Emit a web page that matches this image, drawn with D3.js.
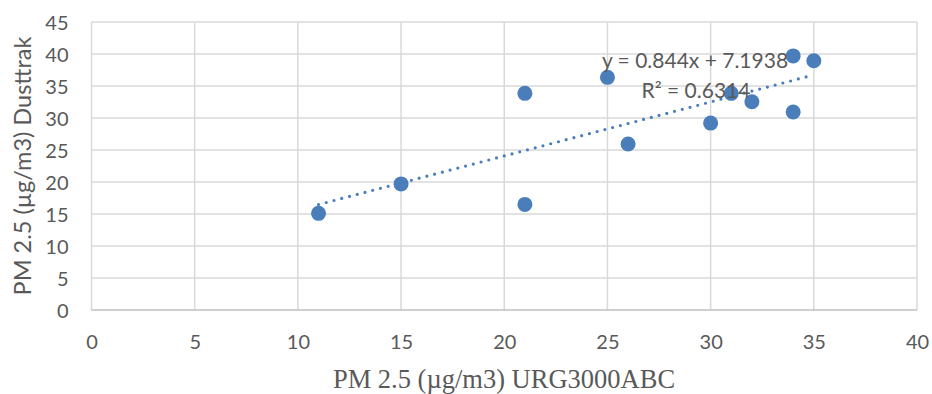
<!DOCTYPE html>
<html>
<head>
<meta charset="utf-8">
<script src="https://cdn.jsdelivr.net/npm/d3@7"></script>
<style>
  body { margin: 0; background: #fff; }
  svg { display: block; }
</style>
</head>
<body>
<script>
// readings from the two instruments
var urg = [11, 15, 21, 21, 25, 26, 30, 31, 32, 34, 34, 35];
var dusttrak = [15.1, 19.7, 33.85, 16.5, 36.35, 25.94, 29.2, 33.85, 32.55, 39.7, 30.94, 38.95];
var xTicks = [0, 5, 10, 15, 20, 25, 30, 35, 40];
var yTicks = [0, 5, 10, 15, 20, 25, 30, 35, 40, 45];
var slope = 0.844, intercept = 7.1938, r2 = 0.6314;

var width = 932, height = 394;
var margin = {top: 22, right: 15, bottom: 84, left: 91.5};
var sans = "Lato, 'Open Sans', sans-serif";

var svg = d3.select("body").append("svg")
    .attr("width", width)
    .attr("height", height);

var x = d3.scaleLinear().domain([0, 40]).range([margin.left, width - margin.right]);
var y = d3.scaleLinear().domain([0, 45]).range([height - margin.bottom, margin.top]);

var grid = svg.append("g");
grid.selectAll("line.v").data(xTicks).enter().append("line")
    .attr("x1", function(d) { return x(d); })
    .attr("x2", function(d) { return x(d); })
    .attr("y1", y(0)).attr("y2", y(45))
    .attr("stroke", "#d9d9d9").attr("stroke-width", 1.5);
grid.selectAll("line.h").data(yTicks).enter().append("line")
    .attr("y1", function(d) { return y(d); })
    .attr("y2", function(d) { return y(d); })
    .attr("x1", x(0)).attr("x2", x(40))
    .attr("stroke", function(d) { return d === 0 ? "#bfbfbf" : "#d9d9d9"; })
    .attr("stroke-width", 1.5);

var xAxis = svg.append("g")
    .attr("transform", "translate(0," + (y(0) + 39) + ")")
    .call(d3.axisBottom(x).tickValues(xTicks).tickSize(0).tickPadding(0));
var yAxis = svg.append("g")
    .attr("transform", "translate(" + (x(0) - 23) + ",0)")
    .call(d3.axisLeft(y).tickValues(yTicks).tickSize(0).tickPadding(0));

[xAxis, yAxis].forEach(function(a) {
  a.select(".domain").remove();
  a.selectAll("text")
      .style("font-family", sans)
      .style("font-size", "20px")
      .attr("fill", "#595959");
});
xAxis.selectAll("text").attr("dy", 0);
yAxis.selectAll("text").attr("dy", "0.36em");

// trendline
var tl = [11, 35];
svg.append("line")
    .attr("x1", x(tl[0])).attr("y1", y(slope * tl[0] + intercept))
    .attr("x2", x(tl[1])).attr("y2", y(slope * tl[1] + intercept))
    .attr("stroke", "#4a7ebb")
    .attr("stroke-width", 3.2)
    .attr("stroke-linecap", "round")
    .attr("stroke-dasharray", "0,8");

svg.append("g").selectAll("circle")
    .data(urg.map(function(d, i) { return [d, dusttrak[i]]; }))
    .enter().append("circle")
    .attr("cx", function(d) { return x(d[0]); })
    .attr("cy", function(d) { return y(d[1]); })
    .attr("r", 7.5)
    .attr("fill", "#4a7ebb");

var eq = svg.append("g")
    .style("font-family", sans)
    .style("font-size", "21px")
    .attr("fill", "#595959")
    .attr("text-anchor", "middle");
eq.append("text").attr("x", 695).attr("y", 68)
    .text("y = " + slope + "x + " + intercept);
eq.append("text").attr("x", 696).attr("y", 98)
    .text("R\u00b2 = " + r2);

svg.append("text")
    .attr("transform", "translate(31," + ((y(0) + y(45)) / 2) + ") rotate(-90)")
    .attr("text-anchor", "middle")
    .style("font-family", sans)
    .style("font-size", "23.5px")
    .attr("fill", "#595959")
    .text("PM 2.5 (\u00b5g/m3) Dusttrak");

svg.append("text")
    .attr("x", 504).attr("y", 388)
    .attr("text-anchor", "middle")
    .style("font-family", "'Liberation Serif', 'Times New Roman', serif")
    .style("font-size", "26.5px")
    .attr("fill", "#595959")
    .text("PM 2.5 (\u00b5g/m3) URG3000ABC");
</script>
</body>
</html>
